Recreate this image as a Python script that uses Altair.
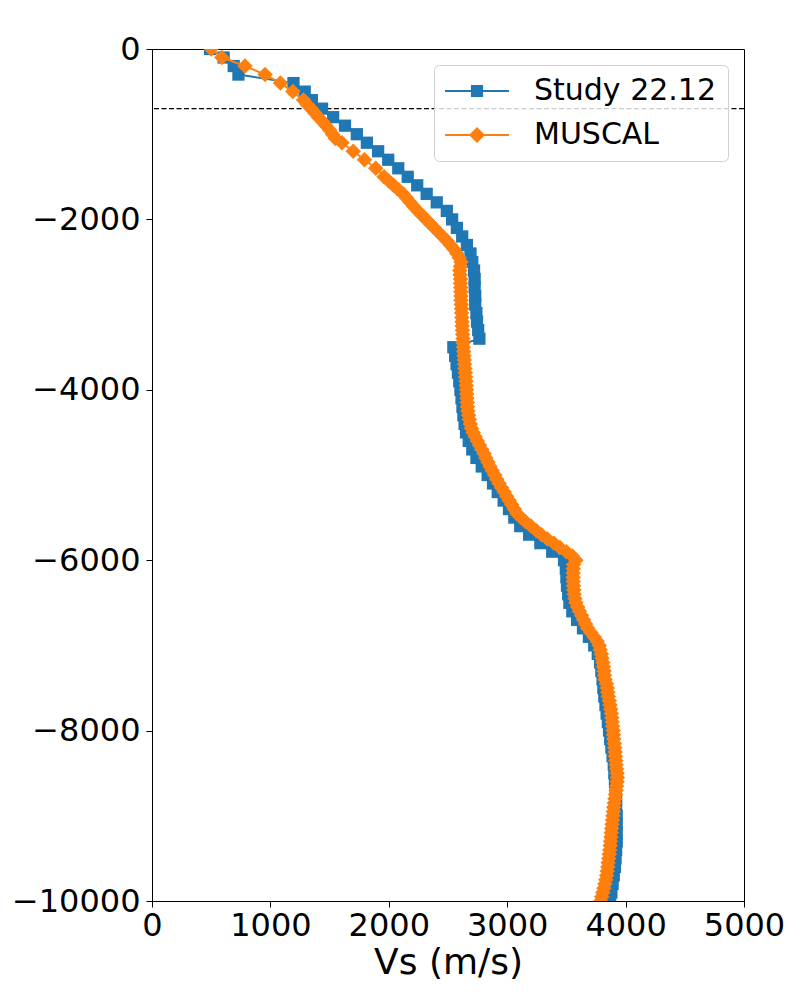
import altair as alt
import pandas as pd

# ---------------- data ----------------
series_names = ["Study 22.12", "MUSCAL"]
series_colors = ["#1f77b4", "#ff7f0e"]

study_depth = [
    0, -100, -200, -300, -400, -500, -600, -700, -800, -900,
    -1000, -1100, -1200, -1300, -1400, -1500, -1600, -1700, -1800, -1900,
    -2000, -2100, -2200, -2300, -2400, -2500, -2600, -2700, -2800, -2900,
    -3000, -3100, -3200, -3300, -3400, -3500, -3600, -3700, -3800, -3900,
    -4000, -4100, -4200, -4300, -4400, -4500, -4600, -4700, -4800, -4900,
    -5000, -5100, -5200, -5300, -5400, -5500, -5600, -5700, -5800, -5900,
    -6000, -6100, -6200, -6300, -6400, -6500, -6600, -6700, -6800, -6900,
    -7000, -7100, -7200, -7300, -7400, -7500, -7600, -7700, -7800, -7900,
    -8000, -8100, -8200, -8300, -8400, -8500, -8600, -8700, -8800, -8900,
    -9000, -9100, -9200, -9300, -9400, -9500, -9600, -9700, -9800, -9900,
    -10000,
]
study_vs = [
    490, 605, 690, 730, 1195, 1290, 1350, 1436, 1530, 1630,
    1730, 1815, 1910, 1995, 2080, 2160, 2240, 2320, 2405, 2490,
    2535, 2575, 2620, 2660, 2690, 2705, 2720, 2725, 2725, 2730,
    2730, 2740, 2745, 2755, 2765, 2545, 2560, 2572, 2584, 2595,
    2605, 2614, 2622, 2630, 2640, 2652, 2675, 2705, 2740, 2785,
    2835, 2880, 2920, 2970, 3015, 3060, 3110, 3185, 3280, 3380,
    3480, 3495, 3500, 3505, 3515, 3525, 3550, 3590, 3640, 3690,
    3735, 3765, 3785, 3795, 3805, 3812, 3820, 3830, 3840, 3850,
    3860, 3870, 3880, 3890, 3900, 3905, 3910, 3915, 3920, 3920,
    3925, 3925, 3925, 3925, 3920, 3915, 3910, 3900, 3890, 3880,
    3870,
]

muscal_depth = [
    0, -100, -200, -300, -400, -500, -600, -650, -700, -750,
    -800, -850, -900, -950, -1000, -1050, -1100, -1200, -1300, -1400,
    -1500,
    -1550, -1600, -1650, -1700, -1750, -1800, -1850, -1900, -1950, -2000,
    -2050, -2100, -2150, -2200, -2250, -2300, -2350, -2400, -2450, -2500,
    -2550, -2600, -2650, -2700, -2750, -2800, -2850, -2900, -2950, -3000,
    -3050, -3100, -3150, -3200, -3250, -3300, -3350, -3400, -3450, -3500,
    -3550, -3600, -3650, -3700, -3750, -3800, -3850, -3900, -3950, -4000,
    -4050, -4100, -4150, -4200, -4250, -4300, -4350, -4400, -4450, -4500,
    -4550, -4600, -4650, -4700, -4750, -4800, -4850, -4900, -4950, -5000,
    -5050, -5100, -5150, -5200, -5250, -5300, -5350, -5400, -5450, -5500,
    -5550, -5600, -5650, -5700, -5750, -5800, -5850, -5900, -5950, -6000,
    -6050, -6100, -6150, -6200, -6250, -6300, -6350, -6400, -6450, -6500,
    -6550, -6600, -6650, -6700, -6750, -6800, -6850, -6900, -6950, -7000,
    -7050, -7100, -7150, -7200, -7250, -7300, -7350, -7400, -7450, -7500,
    -7550, -7600, -7650, -7700, -7750, -7800, -7850, -7900, -7950, -8000,
    -8050, -8100, -8150, -8200, -8250, -8300, -8350, -8400, -8450, -8500,
    -8550, -8600, -8650, -8700, -8750, -8800, -8850, -8900, -8950, -9000,
    -9050, -9100, -9150, -9200, -9250, -9300, -9350, -9400, -9450, -9500,
    -9550, -9600, -9650, -9700, -9750, -9800, -9850, -9900, -9950, -10000,
]
muscal_vs = [
    500, 590, 785, 955, 1085, 1190, 1280, 1310, 1345, 1375,
    1405, 1440, 1470, 1500, 1525, 1550, 1605, 1700, 1795, 1890,
    1960,
    2000, 2040, 2080, 2120, 2150, 2180, 2210, 2245, 2280, 2315,
    2350, 2385, 2420, 2455, 2490, 2520, 2550, 2575, 2595, 2610,
    2605, 2600, 2602, 2605, 2605, 2607, 2608, 2610, 2610, 2612,
    2614, 2615, 2617, 2619, 2620, 2622, 2624, 2626, 2628, 2630,
    2632, 2635, 2638, 2640, 2643, 2646, 2649, 2652, 2654, 2656,
    2658, 2660, 2662, 2664, 2668, 2674, 2680, 2688, 2698, 2712,
    2730, 2748, 2766, 2785, 2805, 2820, 2838, 2855, 2875, 2895,
    2912, 2932, 2953, 2975, 2995, 3017, 3038, 3060, 3080, 3115,
    3155, 3200, 3245, 3290, 3340, 3395, 3445, 3500, 3550, 3580,
    3560, 3558, 3557, 3557, 3558, 3560, 3563, 3566, 3572, 3580,
    3595, 3610, 3628, 3645, 3662, 3680, 3705, 3735, 3760, 3778,
    3785, 3795, 3800, 3808, 3813, 3818, 3822, 3826, 3838, 3845,
    3850, 3854, 3862, 3868, 3874, 3880, 3883, 3887, 3890, 3895,
    3898, 3900, 3905, 3908, 3911, 3914, 3917, 3920, 3924, 3928,
    3930, 3928, 3924, 3920, 3915, 3910, 3905, 3900, 3897, 3893,
    3890, 3886, 3882, 3879, 3876, 3873, 3870, 3866, 3862, 3858,
    3853, 3850, 3845, 3840, 3833, 3825, 3817, 3808, 3798, 3790,
]

ref_depth = [-700]
x_ticks = [0, 1000, 2000, 3000, 4000, 5000]
y_ticks = [0, -2000, -4000, -6000, -8000, -10000]

# ---------------- tables ----------------
study = pd.DataFrame({"vs": study_vs, "depth": study_depth,
                      "order": list(range(len(study_vs)))})
muscal = pd.DataFrame({"vs": muscal_vs, "depth": muscal_depth,
                       "order": list(range(len(muscal_vs)))})
ref = pd.DataFrame({"depth": ref_depth})
legend_df = pd.DataFrame({"series": series_names})

FONT = "DejaVu Sans"

x_enc = alt.X("vs:Q", scale=alt.Scale(domain=[0, 5000], nice=False, zero=False),
              axis=alt.Axis(values=x_ticks, format="d", title="Vs (m/s)",
                            labelOverlap=False, labelFlush=False, labelPadding=3))
y_enc = alt.Y("depth:Q", scale=alt.Scale(domain=[-10000, 0], nice=False, zero=False),
              axis=alt.Axis(values=y_ticks, format="d", title=None,
                            labelOverlap=False, labelFlush=False, labelPadding=6))

rule = alt.Chart(ref).mark_rule(color="black", strokeWidth=1.1,
                                strokeDash=[5, 2.5]).encode(y=y_enc)

blue_line = alt.Chart(study).mark_line(color=series_colors[0], strokeWidth=2,
                                       clip=True).encode(x=x_enc, y=y_enc, order="order:Q")
blue_pts = alt.Chart(study).mark_point(shape="square", filled=True, size=150, opacity=1,
                                       color=series_colors[0], clip=True).encode(x=x_enc, y=y_enc)
orange_line = alt.Chart(muscal).mark_line(color=series_colors[1], strokeWidth=2,
                                          clip=True).encode(x=x_enc, y=y_enc, order="order:Q")
orange_pts = alt.Chart(muscal).mark_point(shape="diamond", filled=True, size=240, opacity=1,
                                          color=series_colors[1], clip=True).encode(x=x_enc, y=y_enc)

# legend symbols: line with a marker on it (custom paths, unit = sqrt(size)/2 = 32px)
sym_square = "M-1,-0.031L1,-0.031L1,0.031L-1,0.031Z M-0.19,-0.19L0.19,-0.19L0.19,0.19L-0.19,0.19Z"
sym_diamond = "M-1,-0.031L1,-0.031L1,0.031L-1,0.031Z M-0.25,0L0,-0.25L0.25,0L0,0.25Z"

leg = alt.Legend(title=None, orient="none", legendX=282, legendY=16,
                 symbolSize=4096, symbolStrokeWidth=0, clipHeight=30,
                 labelFont=FONT, labelFontSize=30, labelColor="black",
                 labelOffset=25, labelLimit=400, rowPadding=14, padding=11,
                 fillColor="rgba(255,255,255,0.8)", strokeColor="#d0d0d0",
                 cornerRadius=5)

legend_layer = alt.Chart(legend_df).transform_filter("false").mark_point(
    filled=True, opacity=1).encode(
    color=alt.Color("series:N", scale=alt.Scale(domain=series_names, range=series_colors),
                    legend=leg),
    shape=alt.Shape("series:N", scale=alt.Scale(domain=series_names,
                                                range=[sym_square, sym_diamond]),
                    legend=leg),
)

chart = alt.layer(rule, blue_line, blue_pts, orange_line, orange_pts, legend_layer).properties(
    width=592, height=852,
    autosize=alt.AutoSizeParams(type="none"),
    padding={"left": 144, "top": 41, "right": 48, "bottom": 91},
    background="white",
).configure_view(stroke="black", strokeWidth=1).configure_axis(
    grid=False, domainColor="black", domainWidth=1, tickColor="black", tickSize=6,
    tickWidth=1, labelFont=FONT, labelFontSize=32, labelColor="black",
    titleFont=FONT, titleFontSize=36, titleFontWeight="normal", titleColor="black",
    titlePadding=4,
)

chart.save("out.html", embed_options={"renderer": "svg", "actions": False})
